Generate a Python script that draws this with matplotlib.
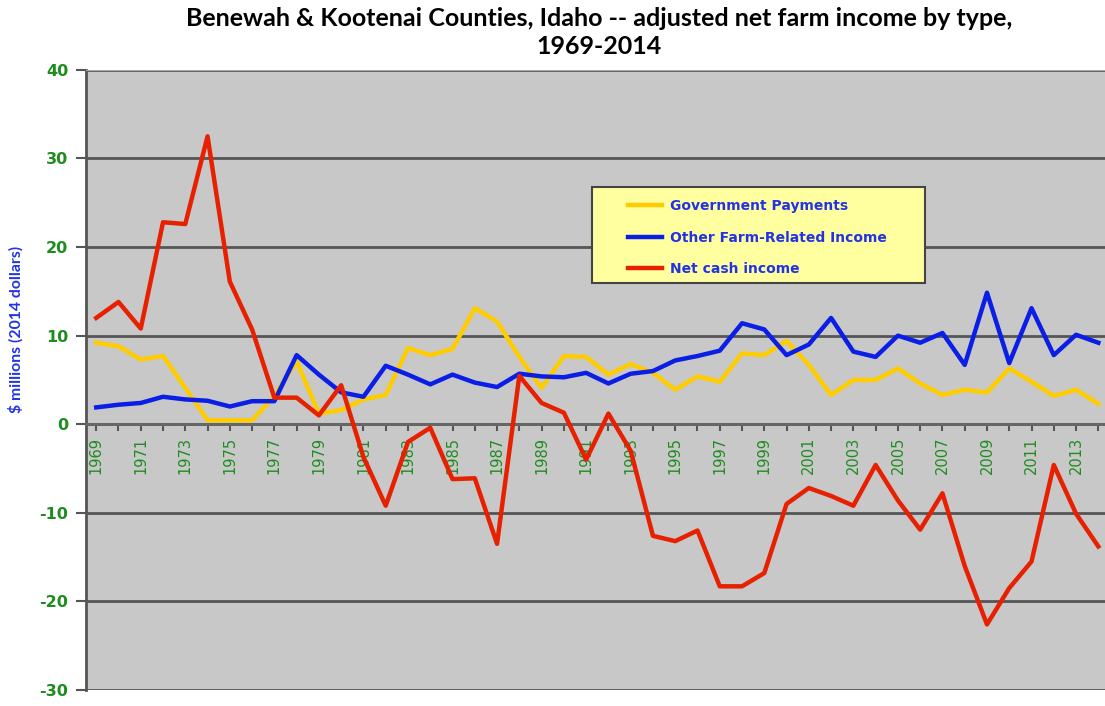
import matplotlib
matplotlib.use("Agg")
import matplotlib.pyplot as plt
from matplotlib.patches import Rectangle
from matplotlib.ticker import MultipleLocator, FixedLocator

plt.rcParams["axes.unicode_minus"] = False

years = list(range(1969, 2015))

gov_payments = [9.2, 8.8, 7.3, 7.7, 4.1, 0.45, 0.45, 0.45, 3.2, 7.1,
                1.2, 1.6, 2.8, 3.3, 8.6, 7.8, 8.5, 13.1, 11.6, 7.6,
                4.1, 7.7, 7.6, 5.6, 6.8, 5.8, 3.9, 5.4, 4.8, 8.0,
                7.8, 9.4, 6.7, 3.3, 5.0, 5.0, 6.3, 4.6, 3.3, 3.9,
                3.6, 6.3, 4.8, 3.2, 3.9, 2.3]

other_income = [1.9, 2.2, 2.4, 3.1, 2.8, 2.65, 2.0, 2.6, 2.6, 7.8,
                5.6, 3.6, 3.1, 6.6, 5.6, 4.5, 5.6, 4.7, 4.2, 5.7,
                5.4, 5.3, 5.8, 4.6, 5.7, 6.0, 7.2, 7.7, 8.3, 11.4,
                10.7, 7.8, 9.0, 12.0, 8.2, 7.6, 10.0, 9.2, 10.3, 6.7,
                14.85, 6.9, 13.1, 7.8, 10.1, 9.2]

net_cash = [12.0, 13.8, 10.8, 22.8, 22.6, 32.5, 16.1, 10.7, 3.0, 3.0,
            1.0, 4.4, -3.7, -9.2, -2.0, -0.4, -6.2, -6.1, -13.5, 5.45,
            2.4, 1.3, -4.0, 1.2, -3.0, -12.6, -13.2, -12.0, -18.3, -18.3,
            -16.8, -9.0, -7.2, -8.1, -9.2, -4.6, -8.6, -11.9, -7.8, -16.0,
            -22.6, -18.5, -15.5, -4.6, -10.1, -13.8]

green = "#1e8c1e"
blue_txt = "#2233e6"

fig = plt.figure(figsize=(11.05, 7.06), dpi=100)
ax = fig.add_axes([0.078, 0.0227, 0.922, 0.8783])
ax.set_facecolor("#c8c8c8")

ax.plot(years, gov_payments, color="#ffcc00", lw=3.2, label="Government Payments", zorder=3)
ax.plot(years, other_income, color="#0a1ee6", lw=3.2, label="Other Farm-Related Income", zorder=4)
ax.plot(years, net_cash, color="#e62000", lw=3.2, label="Net cash income", zorder=5)

ax.set_xlim(1968.55, 2014.3)
ax.set_ylim(-30, 40)
ax.yaxis.set_major_locator(MultipleLocator(10))
ax.grid(axis="y", color="#555555", lw=2, zorder=1)
ax.set_axisbelow(True)

# category axis sits at zero
ax.spines["bottom"].set_position(("data", 0))
ax.spines["bottom"].set_color("#666666")
ax.spines["bottom"].set_linewidth(2)
ax.spines["left"].set_color("#555555")
ax.spines["left"].set_linewidth(2)
ax.spines["top"].set_color("#aaaaaa")
ax.spines["right"].set_visible(False)

ax.xaxis.set_major_locator(FixedLocator(years[::2]))
ax.xaxis.set_minor_locator(FixedLocator(years[1::2]))
ax.set_xticklabels([str(y) for y in years[::2]], rotation=90, color=green,
                   fontsize=10.5)
ax.tick_params(axis="x", which="both", direction="out", length=5, width=1.5,
               color="#555555", pad=4)
ax.tick_params(axis="y", direction="out", length=7, width=1.5, color="#555555",
               labelsize=11.5, labelcolor=green, pad=6)
for lbl in ax.get_yticklabels():
    lbl.set_fontweight("bold")

fig.text(0.014, 0.533, "$ millions (2014 dollars)", color=blue_txt, fontsize=11.3,
         fontweight="bold", family="Lato", rotation=90, ha="center", va="center")

# legend box
box = Rectangle((0.4966, 0.6565), 0.3268, 0.1548, transform=ax.transAxes,
                facecolor="#ffffa0", edgecolor="#444444", lw=1.5, zorder=6)
ax.add_patch(box)
leg = ax.legend(loc="upper left", bbox_to_anchor=(0.5318, 0.792), fontsize=10,
                frameon=False, handlelength=2.45, borderpad=0,
                labelspacing=1.27, handletextpad=0.6, borderaxespad=0)
leg.set_zorder(7)
for t in leg.get_texts():
    t.set_color(blue_txt)
    t.set_fontweight("bold")

fig.suptitle("Benewah & Kootenai Counties, Idaho -- adjusted net farm income by type,\n1969-2014",
             fontsize=18, fontweight="bold", family="Lato", x=0.542, y=0.99,
             linespacing=1.25)

fig.savefig("out.png", dpi=100)
